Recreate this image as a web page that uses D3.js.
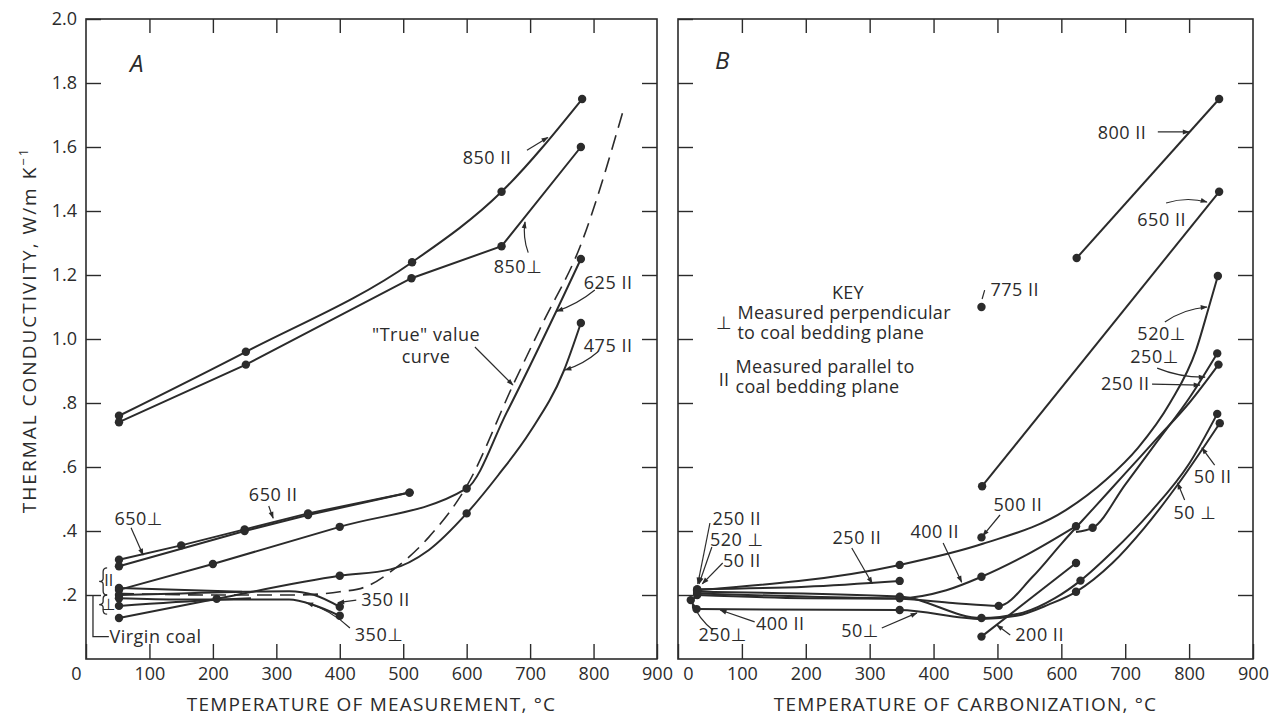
<!DOCTYPE html>
<html>
<head>
<meta charset="utf-8">
<script src="https://cdn.jsdelivr.net/npm/d3@7"></script>
<style>
  body { margin: 0; background: #fff; }
  svg text { font-family: "Open Sans", "DejaVu Sans", sans-serif; fill: #2b2b2b; }
</style>
</head>
<body>
<svg width="1278" height="718"></svg>
<script>
// Panel A: temperatura de medida (°C) -> conductividad (W/m K); 3er valor = punto medido
const a850par  = [[52,0.76,1],[252,0.96,1],[514,1.24,1],[655,1.46,1],[782,1.75,1]];
const a850perp = [[52,0.74,1],[252,0.92,1],[513,1.19,1],[655,1.29,1],[780,1.60,1]];
const a650perp = [[52,0.31,1],[150,0.355,1],[250,0.405,1],[350,0.455,1],[510,0.52,1]];
const a650par  = [[52,0.29,1],[250,0.40,1],[350,0.45,1],[510,0.52,1]];
const a625par  = [[52,0.216,1],[200,0.297,1],[400,0.413,1],[600,0.533,1],[663,0.77,0],[742,1.09,0],[780,1.25,1]];
const a475par  = [[52,0.128,1],[206,0.188,1],[400,0.26,1],[480,0.28,0],[540,0.34,0],[600,0.455,1],[650,0.575,0],[700,0.71,0],[753,0.90,0],[780,1.05,1]];
const a350par  = [[52,0.20,1],[150,0.205,0],[250,0.21,0],[320,0.212,0],[360,0.20,0],[400,0.163,1]];
const a350perp = [[52,0.19,1],[150,0.186,0],[250,0.186,0],[320,0.186,0],[360,0.168,0],[400,0.135,1]];
const aShort1  = [[52,0.222,1],[246,0.21,0]];
const aShort2  = [[52,0.166,1],[206,0.185,0],[260,0.19,0]];
const aTrue    = [[52,0.205],[200,0.20],[330,0.20],[400,0.21],[440,0.225],[485,0.28],[540,0.38],[600,0.54],[674,0.86],[720,1.05],[779,1.29],[847,1.716]];

// Panel B: temperatura de carbonización (°C)
const b800par   = [[624,1.253,1],[847,1.75,1]];
const b650par   = [[476,0.54,1],[847,1.46,1]];
const b775par   = [[475,1.10,1]];
const b500par   = [[475,0.38,1]];
const b520perp  = [[30,0.215,1],[347,0.294,1],[477,0.36,0],[607,0.465,0],[670,0.56,0],[720,0.66,0],[770,0.80,0],[811,0.966,0],[831,1.10,0],[845,1.197,1]];
const b250short = [[30,0.218,1],[200,0.226,0],[347,0.244,1]];
const b400par   = [[30,0.205,1],[200,0.195,0],[347,0.19,1],[420,0.215,0],[475,0.257,1],[550,0.33,0],[623,0.415,1]];
const b250par   = [[30,0.20,1],[200,0.19,0],[347,0.188,0],[430,0.175,0],[502,0.166,1],[555,0.257,0],[600,0.36,0],[650,0.47,0],[700,0.58,0],[750,0.69,0],[800,0.80,0],[846,0.92,1]];
const b250perp  = [[623,0.397,0],[649,0.41,1],[700,0.545,0],[750,0.68,0],[800,0.815,0],[844,0.955,1]];
const b250start = [[20,0.184,1],[30,0.195,0]];
const b50perp   = [[29,0.156,1],[347,0.153,1],[475,0.125,0],[530,0.135,0],[580,0.17,0],[623,0.21,1],[680,0.30,0],[730,0.41,0],[784,0.55,0],[848,0.737,1]];
const b50par    = [[30,0.21,1],[347,0.195,1],[475,0.128,1],[540,0.145,0],[590,0.19,0],[630,0.245,1],[680,0.335,0],[740,0.46,0],[800,0.61,0],[844,0.766,1]];
const b200par   = [[475,0.07,1],[623,0.30,1]];

const xTicks = [0,100,200,300,400,500,600,700,800,900];
const yTicks = [0.2,0.4,0.6,0.8,1.0,1.2,1.4,1.6,1.8,2.0];

// etiquetas: texto, posición, flecha desde/hasta (unidades de datos), curvatura
const aLabels = [
  {t:"850 II", at:[632,1.566], from:[695,1.59], to:[728,1.63], bend:0},
  {t:"850\u22a5", at:[681,1.225], from:[697,1.27], to:[692,1.366], bend:-4},
  {t:"625 II", at:[823,1.175], from:[802,1.153], to:[742,1.087], bend:-4},
  {t:"475 II", at:[823,0.98], from:[807,0.96], to:[755,0.903], bend:-4},
  {t:"\"True\" value\ncurve", at:[536,1.0125], from:[613,0.975], to:[673,0.856], bend:0},
  {t:"650 II", at:[295,0.5125], from:[288,0.478], to:[295,0.44], bend:0},
  {t:"650\u22a5", at:[83,0.44], from:[71,0.41], to:[90,0.325], bend:0},
  {t:"350 II", at:[472,0.184], from:[426,0.184], to:[397,0.176], bend:0},
  {t:"350\u22a5", at:[462,0.075], from:[416,0.097], to:[348,0.175], bend:6}
];
const bLabels = [
  {t:"800 II", at:[695,1.644], from:[751,1.647], to:[800,1.647], bend:0},
  {t:"650 II", at:[757,1.372], from:[764,1.425], to:[828,1.428], bend:-6},
  {t:"775 II", at:[527,1.153], from:[480,1.153], to:[476,1.125], bend:0, head:false},
  {t:"520\u22a5", at:[757,1.016], from:[762,1.053], to:[828,1.10], bend:-6},
  {t:"250\u22a5", at:[746,0.944], from:[750,0.909], to:[825,0.881], bend:5},
  {t:"250 II", at:[700,0.859], from:[742,0.859], to:[817,0.856], bend:0},
  {t:"500 II", at:[532,0.481], from:[504,0.45], to:[477,0.385], bend:0},
  {t:"50 II", at:[837,0.569], from:[840,0.606], to:[820,0.66], bend:0},
  {t:"50 \u22a5", at:[809,0.456], from:[793,0.497], to:[782,0.55], bend:0},
  {t:"250 II", at:[92,0.438], from:[50,0.425], to:[31,0.235], bend:0},
  {t:"520 \u22a5", at:[92,0.372], from:[53,0.35], to:[33,0.235], bend:0},
  {t:"50 II", at:[100,0.306], from:[70,0.30], to:[38,0.235], bend:0},
  {t:"250 II", at:[280,0.378], from:[272,0.347], to:[304,0.236], bend:0},
  {t:"400 II", at:[402,0.397], from:[415,0.3625], to:[444,0.24], bend:0},
  {t:"400 II", at:[160,0.109], from:[120,0.116], to:[66,0.153], bend:0},
  {t:"250\u22a5", at:[70,0.075], from:[55,0.09], to:[22,0.178], bend:-5},
  {t:"50\u22a5", at:[285,0.09], from:[319,0.097], to:[374,0.144], bend:0},
  {t:"200 II", at:[566,0.075], from:[520,0.075], to:[499,0.106], bend:0}
];

const svg = d3.select("svg");
const ink = "#2b2b2b";

const y  = d3.scaleLinear().domain([0, 2]).range([659, 19]);
const xA = d3.scaleLinear().domain([0, 900]).range([86, 657]);
const xB = d3.scaleLinear().domain([0, 900]).range([678, 1253]);

svg.append("defs").append("marker")
    .attr("id", "ah")
    .attr("viewBox", "0 0 10 10")
    .attr("refX", 9).attr("refY", 5)
    .attr("markerWidth", 10).attr("markerHeight", 7)
    .attr("markerUnits", "userSpaceOnUse")
    .attr("orient", "auto")
  .append("path")
    .attr("d", "M0,1.5L10,5L0,8.5z")
    .attr("fill", ink);

// marco con marcas hacia dentro en los cuatro lados
function drawFrame(x, showYLabels, zeroShift) {
    const g = svg.append("g");
    const [x0, x1] = x.range();
    g.append("rect")
        .attr("x", x0).attr("y", y(2))
        .attr("width", x1 - x0).attr("height", y(0) - y(2))
        .attr("fill", "none").attr("stroke", ink).attr("stroke-width", 1.6);

    const bottom = g.append("g")
        .attr("transform", `translate(0,${y(0)})`)
        .call(d3.axisBottom(x).tickValues(xTicks).tickSize(-15).tickPadding(8).tickFormat(d3.format("d")));
    bottom.selectAll("text").attr("dx", d => d === 0 ? zeroShift : 0);

    g.append("g")
        .attr("transform", `translate(0,${y(2)})`)
        .call(d3.axisTop(x).tickValues(xTicks.slice(1, -1)).tickSize(-14).tickFormat(""));

    g.append("g")
        .attr("transform", `translate(${x0},0)`)
        .call(d3.axisLeft(y).tickValues(yTicks).tickSize(-15).tickPadding(9)
            .tickFormat(d => showYLabels ? (d < 1 ? d.toFixed(1).slice(1) : d.toFixed(1)) : ""));

    g.append("g")
        .attr("transform", `translate(${x1},0)`)
        .call(d3.axisRight(y).tickValues(yTicks.slice(0, -1)).tickSize(-15).tickFormat(""));

    g.selectAll(".domain").remove();
    g.selectAll(".tick line").attr("stroke", ink).attr("stroke-width", 1.4);
    g.selectAll(".tick text").attr("font-size", 18).attr("font-family", null).attr("fill", ink);
    g.selectAll("g").attr("font-family", null);
}

function drawSeries(x, pts, opts = {}) {
    const line = d3.line()
        .x(d => x(d[0])).y(d => y(d[1]))
        .curve(opts.linear ? d3.curveLinear : d3.curveMonotoneX);
    if (pts.length > 1) {
        svg.append("path")
            .datum(pts)
            .attr("d", line)
            .attr("fill", "none")
            .attr("stroke", ink)
            .attr("stroke-width", opts.dash ? 1.6 : 2)
            .attr("stroke-dasharray", opts.dash ? "15,8" : null);
    }
    svg.append("g").selectAll("circle")
        .data(pts.filter(d => d[2]))
        .enter().append("circle")
        .attr("cx", d => x(d[0])).attr("cy", d => y(d[1]))
        .attr("r", 4.2).attr("fill", ink);
}

function drawLabels(x, labels) {
    labels.forEach(l => {
        const lines = l.t.split("\n");
        const txt = svg.append("text")
            .attr("x", x(l.at[0])).attr("y", y(l.at[1]))
            .attr("text-anchor", "middle")
            .attr("font-size", 18)
            .attr("letter-spacing", 0.5);
        lines.forEach((s, i) => {
            txt.append("tspan")
                .attr("x", x(l.at[0]))
                .attr("dy", i === 0 ? "0.35em" : "1.2em")
                .text(s);
        });
        if (!l.from) return;
        const p0 = [x(l.from[0]), y(l.from[1])];
        const p1 = [x(l.to[0]), y(l.to[1])];
        const mx = (p0[0] + p1[0]) / 2, my = (p0[1] + p1[1]) / 2;
        const dx = p1[0] - p0[0], dy = p1[1] - p0[1];
        const len = Math.hypot(dx, dy) || 1;
        const cx = mx - dy / len * l.bend, cy = my + dx / len * l.bend;
        svg.append("path")
            .attr("d", `M${p0[0]},${p0[1]}Q${cx},${cy} ${p1[0]},${p1[1]}`)
            .attr("fill", "none")
            .attr("stroke", ink)
            .attr("stroke-width", 1.2)
            .attr("marker-end", l.head === false ? null : "url(#ah)");
    });
}

drawFrame(xA, true, -10);
drawFrame(xB, false, 10);

// ---- Panel A ----
drawSeries(xA, aTrue, {dash: true});
drawSeries(xA, a850par);
drawSeries(xA, a850perp, {linear: true});
drawSeries(xA, a650perp, {linear: true});
drawSeries(xA, a650par, {linear: true});
drawSeries(xA, a625par);
drawSeries(xA, a475par);
drawSeries(xA, a350par);
drawSeries(xA, a350perp);
drawSeries(xA, aShort1, {linear: true});
drawSeries(xA, aShort2);
drawLabels(xA, aLabels);

svg.append("text")
    .attr("x", xA(80)).attr("y", y(1.86)).attr("dy", "0.35em")
    .attr("text-anchor", "middle")
    .attr("font-size", 24).attr("font-style", "italic")
    .text("A");

// llaves de carbón virgen
function brace(xp, y1, y2) {
    const m = (y1 + y2) / 2;
    return `M${xp + 4},${y1} Q${xp},${y1} ${xp},${y1 + 4} L${xp},${m - 3} Q${xp},${m} ${xp - 4},${m} ` +
           `Q${xp},${m} ${xp},${m + 3} L${xp},${y2 - 4} Q${xp},${y2} ${xp + 4},${y2}`;
}
const braceX = xA(27);
svg.append("path").attr("d", brace(braceX, y(0.285), y(0.2)))
    .attr("fill", "none").attr("stroke", ink).attr("stroke-width", 1.3);
svg.append("path").attr("d", brace(braceX, y(0.2), y(0.14)))
    .attr("fill", "none").attr("stroke", ink).attr("stroke-width", 1.3);
svg.append("text").attr("x", xA(36)).attr("y", y(0.245)).attr("dy", "0.35em")
    .attr("text-anchor", "middle").attr("font-size", 16).text("II");
svg.append("text").attr("x", xA(36)).attr("y", y(0.17)).attr("dy", "0.35em")
    .attr("text-anchor", "middle").attr("font-size", 16).text("\u22a5");
svg.append("path")
    .attr("d", `M${xA(11)},${y(0.2)}V${y(0.07)}H${xA(36)}`)
    .attr("fill", "none").attr("stroke", ink).attr("stroke-width", 1.3);
svg.append("text").attr("x", xA(37)).attr("y", y(0.07)).attr("dy", "0.35em")
    .attr("font-size", 18).attr("letter-spacing", 0.5).text("Virgin coal");

// ---- Panel B ----
drawSeries(xB, b800par, {linear: true});
drawSeries(xB, b650par, {linear: true});
drawSeries(xB, b775par);
drawSeries(xB, b500par);
drawSeries(xB, b520perp);
drawSeries(xB, b250short);
drawSeries(xB, b400par);
drawSeries(xB, b250par);
drawSeries(xB, b250perp);
drawSeries(xB, b250start, {linear: true});
drawSeries(xB, b50perp);
drawSeries(xB, b50par);
drawSeries(xB, b200par, {linear: true});
drawLabels(xB, bLabels);

svg.append("text")
    .attr("x", xB(69)).attr("y", y(1.87)).attr("dy", "0.35em")
    .attr("text-anchor", "middle")
    .attr("font-size", 24).attr("font-style", "italic")
    .text("B");

// clave
const key = svg.append("g").attr("font-size", 18).attr("letter-spacing", 0.3);
key.append("text").attr("x", xB(266)).attr("y", y(1.144)).attr("dy", "0.35em")
    .attr("text-anchor", "middle").text("KEY");
key.append("text").attr("x", xB(72)).attr("y", y(1.05)).attr("dy", "0.35em")
    .attr("text-anchor", "middle").text("\u22a5");
key.append("text").attr("x", xB(93)).attr("y", y(1.081)).attr("dy", "0.35em").text("Measured perpendicular");
key.append("text").attr("x", xB(93)).attr("y", y(1.019)).attr("dy", "0.35em").text("to coal bedding plane");
key.append("text").attr("x", xB(72)).attr("y", y(0.872)).attr("dy", "0.35em")
    .attr("text-anchor", "middle").text("II");
key.append("text").attr("x", xB(90)).attr("y", y(0.9125)).attr("dy", "0.35em").text("Measured parallel to");
key.append("text").attr("x", xB(90)).attr("y", y(0.85)).attr("dy", "0.35em").text("coal bedding plane");

// títulos de ejes
svg.append("text")
    .attr("x", (xA.range()[0] + xA.range()[1]) / 2)
    .attr("y", 711)
    .attr("text-anchor", "middle").attr("font-size", 19).attr("letter-spacing", 1.2)
    .text("TEMPERATURE OF MEASUREMENT, \u00b0C");
svg.append("text")
    .attr("x", (xB.range()[0] + xB.range()[1]) / 2)
    .attr("y", 711)
    .attr("text-anchor", "middle").attr("font-size", 19).attr("letter-spacing", 1.2)
    .text("TEMPERATURE OF CARBONIZATION, \u00b0C");

const yTitle = svg.append("text")
    .attr("transform", "translate(36,330) rotate(-90)")
    .attr("text-anchor", "middle").attr("font-size", 19).attr("letter-spacing", 2);
yTitle.append("tspan").text("THERMAL CONDUCTIVITY,  W/m  K");
yTitle.append("tspan").attr("font-size", 13).attr("dy", "-0.6em").text("\u22121");
</script>
</body>
</html>
